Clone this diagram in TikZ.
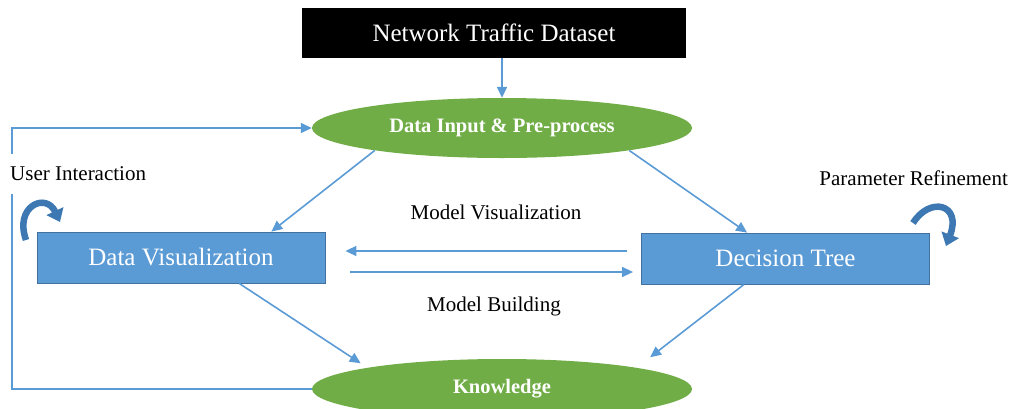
\documentclass[tikz,border=0pt]{standalone}
\usepackage{fontspec}
\setmainfont{Liberation Serif}
\usetikzlibrary{shapes.geometric,arrows.meta}
\definecolor{lineblue}{HTML}{5B9BD5}
\definecolor{boxblue}{HTML}{5B9BD5}
\definecolor{boxedge}{HTML}{41719C}
\definecolor{leafgreen}{HTML}{70AD47}
\definecolor{curlblue}{HTML}{3E78B2}
\begin{document}
\begin{tikzpicture}[x=1pt,y=-1pt,
  flow/.style={draw=lineblue, line width=1.6pt, -{Triangle[length=11pt,width=10pt]}},
  stage/.style={rectangle, fill=boxblue, draw=boxedge, line width=0.8pt, text=white,
    minimum width=288pt, minimum height=51pt, font=\fontsize{25}{30}\selectfont},
  blob/.style={ellipse, fill=leafgreen, text=white, inner sep=0pt,
    minimum width=380pt, minimum height=60pt, font=\fontsize{20.5}{24}\selectfont\bfseries},
  note/.style={font=\fontsize{21}{25}\selectfont, inner sep=1pt},
  curl/.style={draw=curlblue, line width=6.5pt, -{Triangle[length=12pt,width=18pt]}}]
\useasboundingbox (0,0) rectangle (1013,408);
\node [rectangle, fill=black, text=white, minimum width=384pt, minimum height=50pt,
  font=\fontsize{25}{30}\selectfont] (dataset) at (494,33) {Network Traffic Dataset};
\node [blob] (input) at (502,128) {Data Input \& Pre-process};
\node [stage] (datavis) at (181,257.5) {Data Visualization};
\node [stage] (tree) at (785.5,258.5) {Decision Tree};
\node [blob] (knowledge) at (502,389) {Knowledge};
% arrows
\draw [flow] (dataset.south -| input.north) -- (input.north);
\draw [flow] (input.190) -- (datavis.16);
\draw [flow] (input.350) -- (tree.146);
\draw [flow, shorten >=8pt] (datavis.336) -- (knowledge.171);
\draw [flow, shorten >=17pt] (tree.212) -- (knowledge.9);
\draw [flow, shorten <=14pt, shorten >=20pt] ([yshift=7.5pt]tree.west) -- ([yshift=6.5pt]datavis.east);
\draw [flow, shorten <=25pt, shorten >=8pt] ([yshift=-14.5pt]datavis.east) -- ([yshift=-13.5pt]tree.west);
\draw [flow] (knowledge.west) -- ++(-300,0) |- (input.west);
% labels
\node [note, anchor=west, fill=white, inner ysep=13pt] (userlabel) at (9,174) {User Interaction};
\node [note, anchor=east] (paramlabel) at (1009,178) {Parameter Refinement};
\node [note] (mvislabel) at (496,212) {Model Visualization};
\node [note] (mbuildlabel) at (494,306) {Model Building};
% curled arrows
\draw [curl] (26,240) .. controls (14,206) and (46,192) .. (60,222);
\draw [curl] (913,223) .. controls (930,196) and (962,204) .. (946,246);
\end{tikzpicture}
\end{document}
